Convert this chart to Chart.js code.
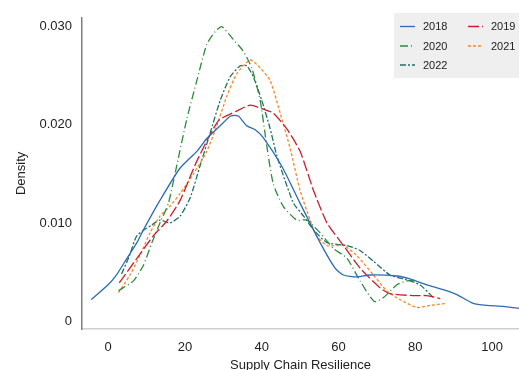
<!DOCTYPE html>
<html>
<head>
<meta charset="utf-8">
<script src="https://cdn.jsdelivr.net/npm/chart.js@4/dist/chart.umd.min.js"></script>
<style>
  html, body { margin: 0; padding: 0; background: #fff; }
  #wrap { width: 519px; height: 370px; }
</style>
</head>
<body>
<div id="wrap"><canvas id="densityChart" width="519" height="370"></canvas></div>
<script>
// Series data (KDE of supply chain resilience by year)
const years = ['2018', '2019', '2020', '2021', '2022'];

const x2018 = [-4.4, 0, 2, 4.9, 7.5, 9.2, 13.5, 18.75, 23.1, 25.7, 29.2, 31.9, 33.9, 36.1, 38.3, 40.4, 45.2, 50, 55.2, 59.1, 61.3, 64.7, 68.2, 75.2, 78.6, 83, 87.3, 90.8, 95.1, 98.6, 102.9, 107];
const y2018 = [0.0022, 0.0037, 0.0046, 0.0064, 0.0080, 0.0093, 0.0123, 0.0156, 0.0173, 0.0186, 0.0199, 0.0209, 0.0209, 0.0199, 0.0195, 0.0187, 0.0158, 0.0120, 0.0080, 0.0054, 0.0047, 0.0045, 0.0047, 0.0046, 0.0043, 0.0037, 0.0032, 0.0027, 0.0018, 0.0016, 0.0015, 0.0013];

const x2019 = [2.9, 7.5, 11.8, 15.3, 18.75, 23.1, 28.7, 33.5, 37, 40.4, 43, 46.5, 50, 53.5, 57, 61.3, 65.6, 70.8, 73.4, 79.5, 83, 86.5];
const y2019 = [0.0039, 0.0064, 0.0087, 0.0102, 0.0123, 0.0163, 0.0204, 0.0214, 0.0220, 0.0216, 0.0212, 0.0196, 0.0173, 0.0133, 0.0100, 0.0077, 0.0054, 0.0034, 0.0028, 0.0026, 0.0026, 0.0023];

const x2020 = [2.7, 6.6, 9.2, 11.4, 13.5, 15.7, 17.9, 20.5, 23.1, 25.7, 27.9, 29.6, 32.6, 35.2, 37.4, 39.6, 41.3, 43, 45.6, 49.1, 51.7, 55.2, 58.7, 62.2, 65.6, 69.3, 71.7, 75.2, 77.8, 80.5];
const y2020 = [0.0031, 0.0041, 0.0057, 0.0080, 0.0100, 0.0120, 0.0159, 0.0206, 0.0245, 0.0282, 0.0295, 0.0300, 0.0287, 0.0275, 0.0258, 0.0225, 0.0179, 0.0140, 0.0117, 0.0103, 0.0103, 0.0090, 0.0074, 0.0064, 0.0041, 0.0020, 0.0024, 0.0037, 0.0041, 0.0042];

const x2021 = [2.7, 5.7, 8.3, 10.9, 13.5, 16.1, 18.75, 22.2, 25.7, 28.3, 30.9, 33.5, 37, 39.6, 42.2, 44.8, 47.4, 50, 52.6, 54.3, 57, 61.3, 64.7, 69.1, 72.5, 76, 80.4, 83.9, 87.8];
const y2021 = [0.0029, 0.0047, 0.0067, 0.0090, 0.0107, 0.0117, 0.0130, 0.0150, 0.0173, 0.0199, 0.0229, 0.0252, 0.0266, 0.0258, 0.0245, 0.0212, 0.0176, 0.0133, 0.0103, 0.0087, 0.0077, 0.0077, 0.0067, 0.0047, 0.0031, 0.0022, 0.0014, 0.0016, 0.0018];

const x2022 = [3.5, 5.5, 7.5, 11.4, 13.5, 16.1, 18.75, 21.4, 24, 26.6, 29.2, 31.8, 34.4, 36.1, 37.8, 40, 42.2, 43.9, 46.1, 48.3, 50.9, 53.5, 57, 62.2, 65.6, 69.1, 73.4, 77.8, 81.2, 84.7];
const y2022 = [0.0048, 0.0066, 0.0087, 0.0098, 0.0103, 0.0100, 0.0107, 0.0126, 0.0159, 0.0192, 0.0225, 0.0249, 0.0260, 0.0260, 0.0249, 0.0225, 0.0196, 0.0169, 0.0143, 0.0120, 0.0107, 0.0093, 0.0080, 0.0077, 0.0072, 0.0061, 0.0047, 0.0042, 0.0037, 0.0024];

const yTicks = [0, 0.01, 0.02, 0.03];
const xTicks = [0, 20, 40, 60, 80, 100];

const seriesX = [x2018, x2019, x2020, x2021, x2022];
const seriesY = [y2018, y2019, y2020, y2021, y2022];
const colors = ['#2b6cb5', '#c8202f', '#2e8b3e', '#f5892b', '#1d7363'];
const dashes = [[], [11, 3], [8, 3, 1, 3], [3, 2], [6, 2, 2, 2]];

const toPoints = (xs, ys) => xs.map((x, i) => ({ x: x, y: ys[i] }));

const datasets = years.map((yr, i) => ({
    label: yr,
    data: toPoints(seriesX[i], seriesY[i]),
    borderColor: colors[i],
    borderWidth: 1.3,
    borderDash: dashes[i],
    pointRadius: 0,
    tension: 0.2,
    fill: false
}));

// Legend box in the top-right corner, two columns
const boxLegend = {
    id: 'boxLegend',
    afterDraw(chart) {
        const c = chart.ctx;
        c.save();
        c.fillStyle = '#efefef';
        c.fillRect(394, 13, 125, 65);
        c.font = '11px "Liberation Sans", Arial, sans-serif';
        c.textBaseline = 'middle';
        c.fillStyle = '#222';
        const cols = [400, 468];
        const rows = [26.5, 46, 65];
        years.forEach((yr, i) => {
            const cx = cols[i % 2];
            const cy = rows[Math.floor(i / 2)];
            c.strokeStyle = colors[i];
            c.lineWidth = 1.3;
            c.setLineDash(dashes[i]);
            c.beginPath();
            c.moveTo(cx, cy);
            c.lineTo(cx + 15, cy);
            c.stroke();
            c.setLineDash([]);
            c.fillText(yr, cx + 23, cy + 0.5);
        });
        c.restore();
    }
};

const font = { family: '"Liberation Sans", Arial, sans-serif', size: 13 };

new Chart(document.getElementById('densityChart'), {
    type: 'scatter',
    data: { datasets: datasets },
    options: {
        responsive: false,
        animation: false,
        showLine: true,
        layout: { padding: { top: 9, right: 0, left: 0, bottom: 0 } },
        plugins: {
            legend: { display: false },
            tooltip: { enabled: false }
        },
        scales: {
            x: {
                type: 'linear',
                min: -6.8,
                max: 107,
                afterBuildTicks: (axis) => { axis.ticks = xTicks.map(v => ({ value: v })); },
                afterFit: (axis) => { axis.height = 41; },
                grid: { display: false, drawTicks: false },
                border: { color: '#cfcfcf', width: 1.5 },
                ticks: { color: '#222', font: font, padding: 11, maxRotation: 0 },
                title: { display: true, text: 'Supply Chain Resilience', color: '#222', font: font, padding: { top: 0, bottom: -3 } }
            },
            y: {
                min: -0.0008,
                max: 0.0309,
                afterBuildTicks: (axis) => { axis.ticks = yTicks.map(v => ({ value: v })); },
                afterFit: (axis) => { axis.width = 82; },
                grid: { display: false, drawTicks: false },
                border: { color: '#7f7f7f', width: 1.5 },
                ticks: {
                    color: '#222',
                    font: font,
                    padding: 10,
                    callback: (v) => v === 0 ? '0' : v.toFixed(3)
                },
                title: { display: true, text: 'Density', color: '#222', font: font, padding: { top: 14, bottom: 0 } }
            }
        }
    },
    plugins: [boxLegend]
});
</script>
</body>
</html>
